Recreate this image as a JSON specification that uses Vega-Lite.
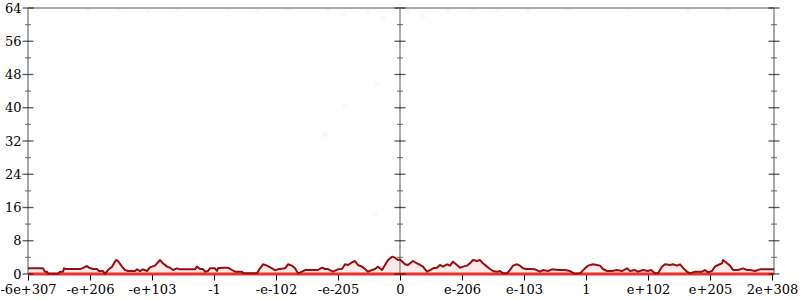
{
  "$schema": "https://vega.github.io/schema/vega-lite/v6.json",
  "width": 746,
  "height": 266,
  "autosize": {"type": "none"},
  "padding": {"left": 28, "top": 8, "right": 26, "bottom": 26},
  "background": "white",
  "config": {
    "view": {"stroke": null},
    "axisX": {
      "domain": false, "grid": false,
      "ticks": true, "tickSize": 6, "tickColor": "#000", "tickWidth": 1,
      "labelFont": "DejaVu Serif", "labelFontSize": 13, "labelColor": "#000",
      "labelPadding": 3, "labelOverlap": false, "labelFlush": false, "labelBound": false
    },
    "axisY": {
      "domain": false, "grid": false, "ticks": false,
      "labelFont": "DejaVu Serif", "labelFontSize": 13, "labelColor": "#000",
      "labelPadding": 7, "labelOverlap": false
    }
  },
  "datasets": {
    "line": [
      {"x": 0, "y": 1.36}, {"x": 15, "y": 1.36}, {"x": 17, "y": 0.56}, {"x": 19, "y": 0.56}, {"x": 20, "y": 0.08},
      {"x": 30, "y": 0.08}, {"x": 32, "y": 0.56}, {"x": 35, "y": 0.56}, {"x": 36, "y": 1.36}, {"x": 38, "y": 1.2},
      {"x": 52, "y": 1.2}, {"x": 54, "y": 1.36}, {"x": 59, "y": 1.93}, {"x": 61, "y": 1.52}, {"x": 65, "y": 1.2},
      {"x": 69, "y": 1.2}, {"x": 71, "y": 0.72}, {"x": 75, "y": 0.72}, {"x": 77, "y": 0.05}, {"x": 80, "y": 0.96},
      {"x": 84, "y": 1.77}, {"x": 88, "y": 3.37}, {"x": 90, "y": 3.13}, {"x": 94, "y": 1.77}, {"x": 97, "y": 0.96},
      {"x": 100, "y": 0.72}, {"x": 107, "y": 0.72}, {"x": 109, "y": 1.12}, {"x": 112, "y": 0.72}, {"x": 115, "y": 1.12},
      {"x": 119, "y": 0.72}, {"x": 122, "y": 1.6}, {"x": 127, "y": 2.01}, {"x": 132, "y": 3.37}, {"x": 135, "y": 2.57},
      {"x": 139, "y": 1.77}, {"x": 142, "y": 1.52}, {"x": 145, "y": 0.96}, {"x": 149, "y": 1.36}, {"x": 152, "y": 1.12},
      {"x": 167, "y": 1.12}, {"x": 169, "y": 1.77}, {"x": 172, "y": 1.2}, {"x": 175, "y": 1.2}, {"x": 177, "y": 0.56},
      {"x": 180, "y": 0.72}, {"x": 182, "y": 1.36}, {"x": 187, "y": 1.36}, {"x": 189, "y": 0.72}, {"x": 190, "y": 1.36},
      {"x": 194, "y": 1.52}, {"x": 200, "y": 1.52}, {"x": 204, "y": 0.96}, {"x": 207, "y": 0.56}, {"x": 214, "y": 0.56},
      {"x": 215, "y": 0.16}, {"x": 229, "y": 0.16}, {"x": 232, "y": 1.36}, {"x": 235, "y": 2.33}, {"x": 239, "y": 2.01},
      {"x": 244, "y": 1.36}, {"x": 247, "y": 0.9}, {"x": 250, "y": 1.12}, {"x": 257, "y": 1.36}, {"x": 260, "y": 2.33},
      {"x": 264, "y": 2.01}, {"x": 267, "y": 1.36}, {"x": 270, "y": 0.16}, {"x": 274, "y": 0.56}, {"x": 277, "y": 0.96},
      {"x": 287, "y": 0.96}, {"x": 290, "y": 0.96}, {"x": 294, "y": 1.52}, {"x": 297, "y": 1.2}, {"x": 300, "y": 1.2},
      {"x": 305, "y": 0.56}, {"x": 310, "y": 1.12}, {"x": 314, "y": 1.2}, {"x": 317, "y": 2.33}, {"x": 320, "y": 2.17},
      {"x": 324, "y": 2.81}, {"x": 327, "y": 3.13}, {"x": 330, "y": 2.17}, {"x": 334, "y": 1.77}, {"x": 337, "y": 1.2},
      {"x": 340, "y": 0.56}, {"x": 344, "y": 0.96}, {"x": 347, "y": 1.2}, {"x": 350, "y": 1.77}, {"x": 354, "y": 0.96},
      {"x": 357, "y": 2.17}, {"x": 360, "y": 3.37}, {"x": 364, "y": 4.17}, {"x": 367, "y": 3.93}, {"x": 370, "y": 3.37},
      {"x": 372, "y": 3.5}, {"x": 377, "y": 2.33}, {"x": 380, "y": 2.17}, {"x": 385, "y": 3.13}, {"x": 389, "y": 2.57},
      {"x": 392, "y": 2.17}, {"x": 395, "y": 1.77}, {"x": 399, "y": 0.56}, {"x": 402, "y": 0.96}, {"x": 405, "y": 1.36},
      {"x": 409, "y": 1.52}, {"x": 412, "y": 2.17}, {"x": 415, "y": 1.77}, {"x": 419, "y": 2.33}, {"x": 422, "y": 2.01},
      {"x": 425, "y": 2.97}, {"x": 429, "y": 2.17}, {"x": 432, "y": 1.52}, {"x": 435, "y": 1.77}, {"x": 439, "y": 2.01},
      {"x": 442, "y": 2.57}, {"x": 445, "y": 3.37}, {"x": 449, "y": 3.13}, {"x": 452, "y": 3.37}, {"x": 455, "y": 2.57},
      {"x": 459, "y": 1.77}, {"x": 462, "y": 1.2}, {"x": 465, "y": 0.72}, {"x": 469, "y": 0.56}, {"x": 472, "y": 0.72},
      {"x": 475, "y": 0.16}, {"x": 479, "y": 0.16}, {"x": 482, "y": 0.96}, {"x": 485, "y": 2.01}, {"x": 489, "y": 2.33},
      {"x": 492, "y": 2.01}, {"x": 495, "y": 1.36}, {"x": 498, "y": 1.2}, {"x": 502, "y": 1.2}, {"x": 507, "y": 1.12},
      {"x": 512, "y": 0.56}, {"x": 515, "y": 0.96}, {"x": 520, "y": 0.72}, {"x": 524, "y": 1.12}, {"x": 530, "y": 0.96},
      {"x": 537, "y": 0.96}, {"x": 542, "y": 0.72}, {"x": 547, "y": 0.05}, {"x": 552, "y": 0.16}, {"x": 557, "y": 1.36},
      {"x": 560, "y": 2.01}, {"x": 565, "y": 2.33}, {"x": 569, "y": 2.17}, {"x": 572, "y": 2.01}, {"x": 575, "y": 1.2},
      {"x": 579, "y": 0.72}, {"x": 584, "y": 0.72}, {"x": 589, "y": 0.96}, {"x": 594, "y": 0.72}, {"x": 599, "y": 1.36},
      {"x": 602, "y": 0.72}, {"x": 607, "y": 0.96}, {"x": 610, "y": 0.56}, {"x": 615, "y": 0.96}, {"x": 620, "y": 0.72},
      {"x": 623, "y": 0.96}, {"x": 627, "y": 0.16}, {"x": 630, "y": 0.16}, {"x": 634, "y": 1.77}, {"x": 637, "y": 2.33},
      {"x": 642, "y": 2.17}, {"x": 645, "y": 2.33}, {"x": 649, "y": 2.01}, {"x": 652, "y": 2.33}, {"x": 655, "y": 1.52},
      {"x": 659, "y": 0.56}, {"x": 662, "y": 0.16}, {"x": 667, "y": 0.56}, {"x": 674, "y": 0.56}, {"x": 677, "y": 0.96},
      {"x": 680, "y": 0.4}, {"x": 684, "y": 0.72}, {"x": 687, "y": 1.77}, {"x": 690, "y": 2.17}, {"x": 694, "y": 2.57},
      {"x": 695, "y": 3.37}, {"x": 699, "y": 2.57}, {"x": 702, "y": 2.01}, {"x": 705, "y": 0.96}, {"x": 710, "y": 0.96},
      {"x": 715, "y": 1.36}, {"x": 719, "y": 0.96}, {"x": 722, "y": 0.96}, {"x": 727, "y": 0.72}, {"x": 732, "y": 1.12},
      {"x": 742, "y": 1.12}, {"x": 746, "y": 1.12}
    ],
    "dots": [
      {"x": 60, "y": 63.5}, {"x": 90, "y": 63.6}, {"x": 120, "y": 63.4}, {"x": 150, "y": 63.6}, {"x": 200, "y": 63.5},
      {"x": 230, "y": 63.4}, {"x": 260, "y": 63.6}, {"x": 300, "y": 63.5}, {"x": 315, "y": 62.5}, {"x": 340, "y": 63.3},
      {"x": 355, "y": 61.5}, {"x": 380, "y": 63.2}, {"x": 395, "y": 62.0}, {"x": 420, "y": 63.4}, {"x": 445, "y": 63.6},
      {"x": 470, "y": 63.5}, {"x": 500, "y": 63.4}, {"x": 540, "y": 63.6}, {"x": 600, "y": 63.5}, {"x": 660, "y": 63.4},
      {"x": 700, "y": 63.5}, {"x": 317, "y": 40.5}, {"x": 297, "y": 33.5}, {"x": 347, "y": 14.5}, {"x": 349, "y": 45.5}
    ],
    "ticks": [
      {"v": 0, "kind": "major"}, {"v": 8, "kind": "major"}, {"v": 16, "kind": "major"}, {"v": 24, "kind": "major"},
      {"v": 32, "kind": "major"}, {"v": 40, "kind": "major"}, {"v": 48, "kind": "major"}, {"v": 56, "kind": "major"},
      {"v": 64, "kind": "major"},
      {"v": 4, "kind": "minor"}, {"v": 12, "kind": "minor"}, {"v": 20, "kind": "minor"}, {"v": 28, "kind": "minor"},
      {"v": 36, "kind": "minor"}, {"v": 44, "kind": "minor"}, {"v": 52, "kind": "minor"}, {"v": 60, "kind": "minor"}
    ],
    "one": [{"k": 1}]
  },
  "layer": [
    {
      "data": {"name": "line"},
      "mark": {"type": "area", "color": "#f29a9a", "opacity": 0.22},
      "encoding": {
        "x": {"field": "x", "type": "quantitative", "title": null,
              "scale": {"domain": [0, 746], "nice": false, "zero": false},
              "axis": {
                "values": [0, 62, 124, 186, 248, 310, 372, 434, 496, 558, 620, 682, 744],
                "labelExpr": "['-6e+307','-e+206','-e+103','-1','-e-102','-e-205','0','e-206','e-103','1','e+102','e+205','2e+308'][round(datum.value/62)]",
                "labelOverlap": false, "labelFont": "DejaVu Serif", "labelFontSize": 13
              }},
        "y": {"field": "y", "type": "quantitative", "title": null,
              "scale": {"domain": [0, 64], "nice": false, "zero": true},
              "axis": {"values": [0, 8, 16, 24, 32, 40, 48, 56, 64], "labelOverlap": false, "tickCount": 9, "labelFont": "DejaVu Serif", "labelFontSize": 13}}
      }
    },
    {
      "data": {"name": "dots"},
      "mark": {"type": "circle", "color": "#e05a5a", "opacity": 0.05, "size": 30},
      "encoding": {
        "x": {"field": "x", "type": "quantitative", "title": null},
        "y": {"field": "y", "type": "quantitative", "title": null,
              "axis": {"values": [0, 8, 16, 24, 32, 40, 48, 56, 64], "labelOverlap": false, "tickCount": 9, "labelFont": "DejaVu Serif", "labelFontSize": 13}}
      }
    },
    {
      "data": {"name": "one"},
      "mark": {"type": "rule", "color": "#aaaaaa", "strokeWidth": 2},
      "encoding": {"y": {"datum": 64, "axis": {"values": [0, 8, 16, 24, 32, 40, 48, 56, 64], "labelOverlap": false, "tickCount": 9, "labelFont": "DejaVu Serif", "labelFontSize": 13}}}
    },
    {
      "data": {"name": "one"},
      "mark": {"type": "rule", "color": "#aaaaaa", "strokeWidth": 2},
      "encoding": {"x": {"datum": 0}}
    },
    {
      "data": {"name": "one"},
      "mark": {"type": "rule", "color": "#aaaaaa", "strokeWidth": 2},
      "encoding": {"x": {"datum": 372}}
    },
    {
      "data": {"name": "one"},
      "mark": {"type": "rule", "color": "#aaaaaa", "strokeWidth": 2},
      "encoding": {"x": {"datum": 746}}
    },
    {
      "data": {"name": "one"},
      "mark": {"type": "rule", "color": "#e8322f", "strokeWidth": 3},
      "encoding": {"y": {"datum": 0, "axis": {"values": [0, 8, 16, 24, 32, 40, 48, 56, 64], "labelOverlap": false, "tickCount": 9, "labelFont": "DejaVu Serif", "labelFontSize": 13}}}
    },
    {
      "data": {"name": "line"},
      "mark": {"type": "line", "color": "#960f0f", "strokeWidth": 2, "strokeJoin": "round"},
      "encoding": {
        "x": {"field": "x", "type": "quantitative", "title": null},
        "y": {"field": "y", "type": "quantitative", "title": null,
              "axis": {"values": [0, 8, 16, 24, 32, 40, 48, 56, 64], "labelOverlap": false, "tickCount": 9, "labelFont": "DejaVu Serif", "labelFontSize": 13}}
      }
    },
    {
      "data": {"name": "ticks"},
      "mark": {"type": "tick", "orient": "horizontal", "thickness": 1.3},
      "encoding": {
        "x": {"datum": 0},
        "y": {"field": "v", "type": "quantitative", "title": null,
              "axis": {"values": [0, 8, 16, 24, 32, 40, 48, 56, 64], "labelOverlap": false, "tickCount": 9, "labelFont": "DejaVu Serif", "labelFontSize": 13}},
        "size": {"field": "kind", "type": "nominal", "scale": {"domain": ["major", "minor"], "range": [11, 6]}, "legend": null},
        "color": {"field": "kind", "type": "nominal", "scale": {"domain": ["major", "minor"], "range": ["#111111", "#555555"]}, "legend": null}
      }
    },
    {
      "data": {"name": "ticks"},
      "mark": {"type": "tick", "orient": "horizontal", "thickness": 1.3},
      "encoding": {
        "x": {"datum": 372},
        "y": {"field": "v", "type": "quantitative", "title": null,
              "axis": {"values": [0, 8, 16, 24, 32, 40, 48, 56, 64], "labelOverlap": false, "tickCount": 9, "labelFont": "DejaVu Serif", "labelFontSize": 13}},
        "size": {"field": "kind", "type": "nominal", "scale": {"domain": ["major", "minor"], "range": [11, 6]}, "legend": null},
        "color": {"field": "kind", "type": "nominal", "scale": {"domain": ["major", "minor"], "range": ["#111111", "#555555"]}, "legend": null}
      }
    },
    {
      "data": {"name": "ticks"},
      "mark": {"type": "tick", "orient": "horizontal", "thickness": 1.3},
      "encoding": {
        "x": {"datum": 746},
        "y": {"field": "v", "type": "quantitative", "title": null,
              "axis": {"values": [0, 8, 16, 24, 32, 40, 48, 56, 64], "labelOverlap": false, "tickCount": 9, "labelFont": "DejaVu Serif", "labelFontSize": 13}},
        "size": {"field": "kind", "type": "nominal", "scale": {"domain": ["major", "minor"], "range": [11, 6]}, "legend": null},
        "color": {"field": "kind", "type": "nominal", "scale": {"domain": ["major", "minor"], "range": ["#111111", "#555555"]}, "legend": null}
      }
    }
  ]
}
